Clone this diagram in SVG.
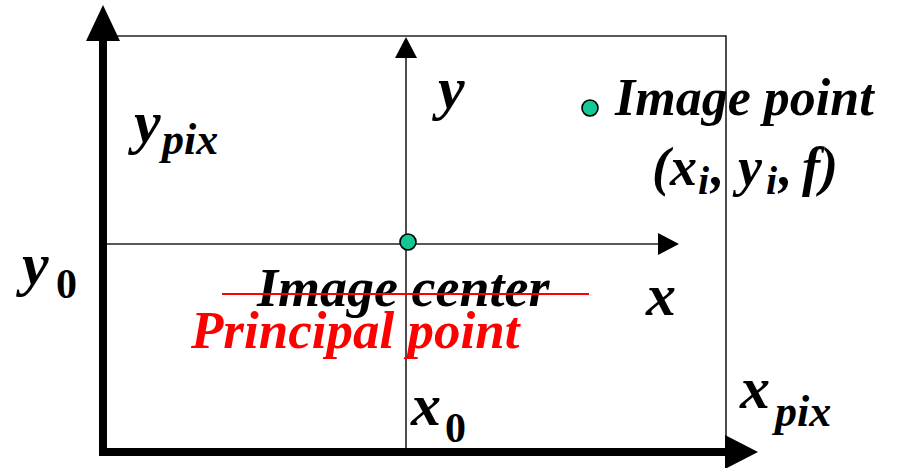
<svg xmlns="http://www.w3.org/2000/svg" width="901" height="468" viewBox="0 0 901 468">
<style>
.t{font-family:"Liberation Serif","Times New Roman",serif;font-weight:bold;font-style:italic;fill:#000}
.up{font-style:normal}
.red{fill:#ff0000}
.thin{stroke:#222;stroke-width:1.6;fill:none}
.thick{stroke:#000;stroke-width:8;fill:none}
.dot{fill:#14c896;stroke:#000;stroke-width:1.6}
</style>
<rect width="901" height="468" fill="#fff"/>
<g id="connectors">
  <path class="thin" d="M103,36 H726 V448"/>
  <path class="thin" d="M406,448 V56"/>
  <polygon points="395,58 417,58 406,37" fill="#000"/>
  <path class="thin" d="M106,244 H660"/>
  <polygon points="658,233 658,255 679,244" fill="#000"/>
  <path class="thick" d="M103,40 V452 H727"/>
  <polygon points="86,41 120,41 103,5" fill="#000"/>
  <polygon points="725,435 725,469 758,452" fill="#000"/>
</g>
<g id="image-center">
  <circle class="dot" cx="408" cy="242" r="8"/>
  <text class="t" x="257" y="306" font-size="54">Image center</text>
  <line x1="222" y1="294" x2="589" y2="294" stroke="#ff0000" stroke-width="2"/>
  <text class="t red" x="191" y="348" font-size="53">Principal point</text>
</g>
<g id="image-point">
  <circle class="dot" cx="590" cy="108" r="8"/>
  <text class="t" x="615" y="115" font-size="52">Image point</text>
  <text class="t" y="185" font-size="54"><tspan x="652">(x</tspan><tspan x="698" font-size="40" dy="9">i</tspan><tspan x="711" dy="-9">,</tspan><tspan x="738">y</tspan><tspan x="766" font-size="40" dy="9">i</tspan><tspan x="779" dy="-9">,</tspan><tspan x="802">f)</tspan></text>
</g>
<g id="labels">
  <text class="t" x="438" y="108" font-size="60">y</text>
  <text class="t" x="646" y="315" font-size="60">x</text>
  <text class="t" x="134" y="142" font-size="60">y<tspan x="162" font-size="44" dy="12">pix</tspan></text>
  <text class="t" x="22" y="284" font-size="60">y</text>
  <text class="t up" x="56" y="298" font-size="42">0</text>
  <text class="t" x="411" y="425" font-size="60">x</text>
  <text class="t up" x="445" y="442" font-size="42">0</text>
  <text class="t" x="740" y="408" font-size="60">x<tspan x="775" font-size="44" dy="18">pix</tspan></text>
</g>
</svg>
